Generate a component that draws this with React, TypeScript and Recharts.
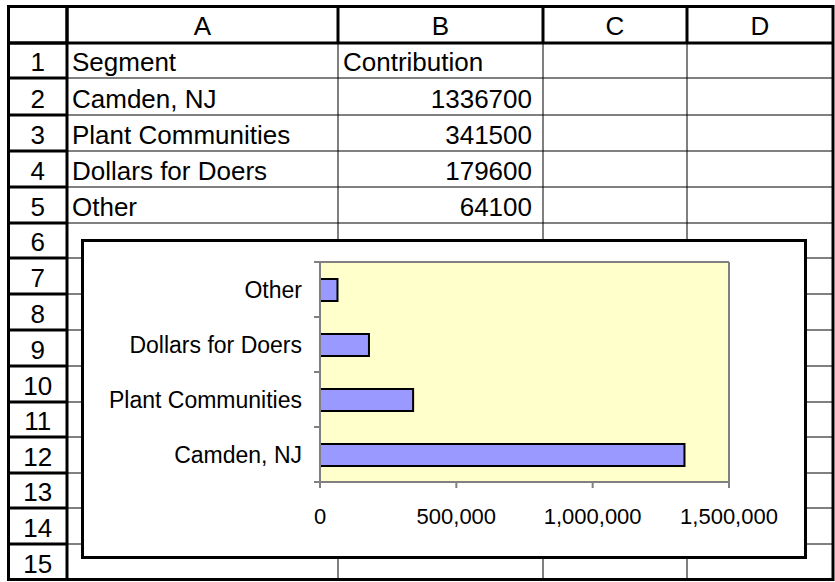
import { BarChart, Bar, XAxis, YAxis, CartesianGrid } from 'recharts';

const columnLetters = ['A', 'B', 'C', 'D'];
const headerLabels = ['Segment', 'Contribution'];
const segments = ['Camden, NJ', 'Plant Communities', 'Dollars for Doers', 'Other'];
const contributions = [1336700, 341500, 179600, 64100];
const xTicks = [0, 500000, 1000000, 1500000];

const data = segments.map((name, i) => ({ name, value: contributions[i] }));

// sheet geometry (page pixels)
const colEdges = [8.5, 67, 338, 543, 687, 833];
const rowEdges = [6.5, 43, 78, 115, 151, 187, 223, 258, 294, 330, 366, 402, 437, 473, 508, 544, 579.5];

const FONT = '"Liberation Sans", Arial, sans-serif';
const AXIS_GREY = '#808080';

const CHART_W = 726;
const CHART_H = 320;
const PLOT_H = 219;

const CategoryTick = (props: any) => {
  const { x, y, payload, index } = props;
  const half = payload && typeof payload.offset === 'number' && payload.offset > 0
    ? payload.offset
    : PLOT_H / segments.length / 2;
  return (
    <g>
      <line x1={x + 12} x2={x + 18} y1={y - half} y2={y - half} stroke={AXIS_GREY} strokeWidth={2} />
      {index === 0 && (
        <line x1={x + 12} x2={x + 18} y1={y + half} y2={y + half} stroke={AXIS_GREY} strokeWidth={2} />
      )}
      <text x={x} y={y} dy="0.355em" textAnchor="end" fontSize={23} fill="#000" fontFamily={FONT}>
        {payload.value}
      </text>
    </g>
  );
};

function Sheet() {
  const top = rowEdges[0];
  const bottom = rowEdges[rowEdges.length - 1];
  const left = colEdges[0];
  const right = colEdges[colEdges.length - 1];
  const rowCount = rowEdges.length - 1;

  const textBase = (r: number) => rowEdges[r + 1] - 7;

  return (
    <svg width={835} height={582} style={{ position: 'absolute', left: 0, top: 0 }}>
      <rect x={0} y={0} width={835} height={582} fill="#fff" />
      {/* thin interior lines */}
      {rowEdges.slice(2, -1).map((y, i) => (
        <line key={`h${i}`} x1={colEdges[1]} x2={right} y1={y} y2={y} stroke="#000" strokeWidth={1} />
      ))}
      {colEdges.slice(2, -1).map((x, i) => (
        <line key={`v${i}`} x1={x} x2={x} y1={rowEdges[1]} y2={bottom} stroke="#000" strokeWidth={1} />
      ))}
      {/* header separators (thick) */}
      {rowEdges.slice(1, -1).map((y, i) => (
        <line key={`rh${i}`} x1={left} x2={colEdges[1]} y1={y} y2={y} stroke="#000" strokeWidth={3} />
      ))}
      {colEdges.slice(1, -1).map((x, i) => (
        <line key={`ch${i}`} x1={x} x2={x} y1={top} y2={rowEdges[1]} stroke="#000" strokeWidth={3} />
      ))}
      <line x1={left} x2={right} y1={rowEdges[1]} y2={rowEdges[1]} stroke="#000" strokeWidth={3} />
      <line x1={colEdges[1]} x2={colEdges[1]} y1={top} y2={bottom} stroke="#000" strokeWidth={3} />
      <rect x={left} y={top} width={right - left} height={bottom - top} fill="none" stroke="#000" strokeWidth={3} />

      <g fontFamily={FONT} fontSize={26} fill="#000">
        {columnLetters.map((c, i) => (
          <text key={c} x={(colEdges[i + 1] + colEdges[i + 2]) / 2} y={textBase(0) - 1} textAnchor="middle">{c}</text>
        ))}
        {Array.from({ length: rowCount - 1 }, (_, i) => (
          <text key={`n${i}`} x={(colEdges[0] + colEdges[1]) / 2} y={textBase(i + 1)} textAnchor="middle">{i + 1}</text>
        ))}
        <text x={colEdges[1] + 5} y={textBase(1)}>{headerLabels[0]}</text>
        <text x={colEdges[2] + 5} y={textBase(1)}>{headerLabels[1]}</text>
        {segments.map((s, i) => (
          <g key={s}>
            <text x={colEdges[1] + 5} y={textBase(i + 2)}>{s}</text>
            <text x={colEdges[3] - 11} y={textBase(i + 2)} textAnchor="end">{contributions[i]}</text>
          </g>
        ))}
      </g>
    </svg>
  );
}

export default function App() {
  return (
    <div style={{ position: 'absolute', left: 0, top: 0, width: 835, height: 582, background: '#fff', fontFamily: FONT }}>
      <Sheet />
      <div
        style={{
          position: 'absolute',
          left: 81,
          top: 239,
          width: CHART_W,
          height: CHART_H,
          boxSizing: 'border-box',
          border: '3px solid #000',
          background: '#fff',
        }}
      />
      <div style={{ position: 'absolute', left: 81, top: 239 }}>
        <BarChart
          width={CHART_W}
          height={CHART_H}
          data={data}
          layout="vertical"
          margin={{ top: 22, right: 77, left: 0, bottom: 0 }}
          style={{ fontFamily: FONT }}
        >
          <CartesianGrid horizontal={false} vertical={false} fill="#FFFFCC" stroke="none" />
          <XAxis
            type="number"
            domain={[0, 1500000]}
            ticks={xTicks}
            interval={0}
            height={77}
            tickSize={6}
            tickMargin={20}
            tickFormatter={(v: number) => v.toLocaleString('en-US')}
            tick={{ fill: '#000', fontSize: 22, fontFamily: FONT }}
            tickLine={{ stroke: AXIS_GREY, strokeWidth: 2 }}
            axisLine={{ stroke: AXIS_GREY, strokeWidth: 2 }}
          />
          <XAxis
            xAxisId="top"
            orientation="top"
            type="number"
            domain={[0, 1500000]}
            height={1}
            tick={false}
            tickLine={false}
            axisLine={{ stroke: AXIS_GREY, strokeWidth: 2 }}
          />
          <YAxis
            type="category"
            dataKey="name"
            reversed
            width={239}
            interval={0}
            tickSize={6}
            tickMargin={12}
            tickLine={false}
            tick={<CategoryTick />}
            axisLine={{ stroke: AXIS_GREY, strokeWidth: 2 }}
          />
          <YAxis
            yAxisId="right"
            orientation="right"
            type="category"
            dataKey="name"
            width={1}
            tick={false}
            tickLine={false}
            axisLine={{ stroke: AXIS_GREY, strokeWidth: 2 }}
          />
          <Bar
            dataKey="value"
            fill="#9999FF"
            stroke="#000"
            strokeWidth={2}
            barSize={22}
            isAnimationActive={false}
          />
        </BarChart>
      </div>
    </div>
  );
}
